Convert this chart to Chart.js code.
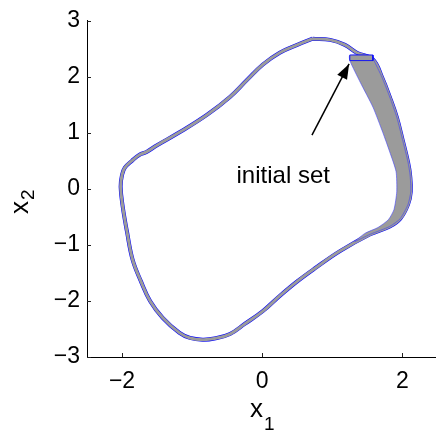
<!DOCTYPE html>
<html>
<head>
<meta charset="utf-8">
<script src="https://cdn.jsdelivr.net/npm/chart.js@4/dist/chart.umd.min.js"></script>
<style>
  html, body { margin: 0; padding: 0; background: #fff; }
  #wrap { width: 436px; height: 431px; }
</style>
</head>
<body>
<div id="wrap"><canvas id="c" width="436" height="431"></canvas></div>
<script>
// Axis ranges and tick values
const xTicks = [-2, 0, 2];
const yTicks = [-3, -2, -1, 0, 1, 2, 3];
const xRange = [-2.5, 2.48];
const yRange = [-3, 3];

// Limit cycle traced clockwise (x1, x2)
const limitCycle = [
  [0.72,2.68],[0.97,2.66],[1.18,2.57],[1.35,2.43],[1.58,2.31],
  [1.71,1.99],[1.82,1.64],[1.92,1.28],[2.01,0.84],[2.08,0.48],
  [2.11,0.25],[2.12,-0.05],[2.08,-0.28],[1.97,-0.53],[1.82,-0.67],
  [1.54,-0.81],[1.11,-1.11],[0.75,-1.42],[0.50,-1.65],[0.25,-1.91],
  [0.01,-2.18],[-0.25,-2.41],[-0.46,-2.59],[-0.68,-2.67],[-0.85,-2.69],
  [-1.03,-2.66],[-1.18,-2.57],[-1.42,-2.30],[-1.60,-2.00],[-1.73,-1.65],
  [-1.85,-1.26],[-1.93,-0.76],[-1.99,-0.32],[-2.02,0.04],[-2.00,0.25],
  [-1.96,0.38],[-1.86,0.50],[-1.75,0.61],[-1.65,0.66],[-1.50,0.78],
  [-1.18,1.01],[-0.79,1.32],[-0.46,1.64],[-0.22,1.94],[0.01,2.22],
  [0.25,2.43],[0.50,2.57],[0.72,2.68]
];

// Reachable set spreading from the initial set: outer edge, then inner edge back up
const bandOuter = [
  [1.58,2.33],[1.71,1.99],[1.82,1.64],[1.92,1.28],[2.01,0.84],[2.08,0.48],
  [2.11,0.25],[2.12,-0.05],[2.08,-0.28],[1.97,-0.53],[1.82,-0.67],
  [1.54,-0.81],[1.32,-0.94]
];
const bandInner = [
  [1.47,-0.79],[1.65,-0.69],[1.80,-0.55],[1.88,-0.37],[1.92,-0.05],
  [1.91,0.31],[1.82,0.66],[1.72,1.01],[1.58,1.46],[1.40,1.90],
  [1.25,2.29],[1.25,2.38],[1.58,2.38],[1.58,2.33]
];

// Initial set box
const initialSet = [[1.25,2.29],[1.25,2.39],[1.58,2.39],[1.58,2.29],[1.25,2.29]];

// Annotation arrow (tail -> head) and its label
const arrowLine = [[0.71,0.96],[1.24,2.23]];
const labelText = 'initial set';
const labelPos = [0.30, 0.22];

const GRAY = '#9b9b9b';
const BLUE = '#0000ff';
const FONT = '"Liberation Sans", Arial, sans-serif';

const pts = a => a.map(p => ({ x: p[0], y: p[1] }));
const minus = v => (v < 0 ? '\u2212' + Math.abs(v) : String(v));

const annotate = {
  id: 'annotate',
  afterDatasetsDraw(chart) {
    const { ctx, scales: { x, y }, chartArea } = chart;
    ctx.save();

    // inward tick marks on the left and bottom axes
    ctx.strokeStyle = '#222';
    ctx.lineWidth = 1;
    ctx.beginPath();
    xTicks.forEach(v => {
      const px = Math.round(x.getPixelForValue(v)) + 0.5;
      ctx.moveTo(px, chartArea.bottom);
      ctx.lineTo(px, chartArea.bottom - 4);
    });
    yTicks.forEach(v => {
      const py = Math.round(y.getPixelForValue(v)) + 0.5;
      ctx.moveTo(chartArea.left, py);
      ctx.lineTo(chartArea.left + 4, py);
    });
    ctx.stroke();

    // arrowhead
    const meta = chart.getDatasetMeta(0);
    const a = meta.data[0], b = meta.data[1];
    const ang = Math.atan2(b.y - a.y, b.x - a.x);
    const L = 15, W = 5.5;
    ctx.fillStyle = '#000';
    ctx.beginPath();
    ctx.moveTo(b.x, b.y);
    ctx.lineTo(b.x - L * Math.cos(ang) + W * Math.sin(ang), b.y - L * Math.sin(ang) - W * Math.cos(ang));
    ctx.lineTo(b.x - L * Math.cos(ang) - W * Math.sin(ang), b.y - L * Math.sin(ang) + W * Math.cos(ang));
    ctx.closePath();
    ctx.fill();

    // label
    ctx.fillStyle = '#000';
    ctx.font = '24px ' + FONT;
    ctx.textAlign = 'center';
    ctx.textBaseline = 'middle';
    ctx.fillText(labelText, x.getPixelForValue(labelPos[0]), y.getPixelForValue(labelPos[1]));

    // axis titles with subscripts
    ctx.textAlign = 'left';
    ctx.textBaseline = 'alphabetic';
    ctx.font = '26px ' + FONT;
    ctx.fillText('x', 250, 417);
    ctx.font = '19px ' + FONT;
    ctx.fillText('1', 264, 430);

    ctx.translate(28, 214);
    ctx.rotate(-Math.PI / 2);
    ctx.font = '26px ' + FONT;
    ctx.fillText('x', 0, 0);
    ctx.font = '19px ' + FONT;
    ctx.fillText('2', 14, 6);
    ctx.restore();
  }
};

new Chart(document.getElementById('c'), {
  type: 'scatter',
  data: {
    datasets: [
      { data: pts(arrowLine), showLine: true, borderColor: '#000', borderWidth: 1.5, pointRadius: 0 },
      { data: pts(initialSet), showLine: true, fill: 'shape', backgroundColor: GRAY,
        borderColor: 'rgba(0,0,255,0.85)', borderWidth: 1, pointRadius: 0, tension: 0 },
      { data: pts(bandOuter.concat(bandInner)), showLine: true, fill: 'shape', backgroundColor: GRAY,
        borderColor: 'rgba(60,60,255,0.7)', borderWidth: 0.8, pointRadius: 0, tension: 0.2 },
      { data: pts(limitCycle), showLine: true, borderColor: GRAY, borderWidth: 3, pointRadius: 0, tension: 0.4 },
      { data: pts(limitCycle), showLine: true, borderColor: BLUE, borderWidth: 4, pointRadius: 0, tension: 0.4 }
    ]
  },
  options: {
    responsive: false,
    animation: false,
    layout: { padding: { top: 18, right: 0, left: 0, bottom: 0 } },
    plugins: { legend: { display: false }, tooltip: { enabled: false } },
    scales: {
      x: {
        type: 'linear', min: xRange[0], max: xRange[1],
        afterBuildTicks: s => { s.ticks = xTicks.map(v => ({ value: v })); },
        afterFit: s => { s.height = 74; },
        grid: { display: false, drawTicks: false },
        border: { display: true, color: '#000', width: 1 },
        ticks: { color: '#000', font: { family: FONT, size: 23 }, padding: 11, callback: v => minus(v) }
      },
      y: {
        type: 'linear', min: yRange[0], max: yRange[1],
        afterBuildTicks: s => { s.ticks = yTicks.map(v => ({ value: v })); },
        afterFit: s => { s.width = 87; },
        grid: { display: false, drawTicks: false },
        border: { display: true, color: '#000', width: 1 },
        ticks: { color: '#000', font: { family: FONT, size: 23 }, padding: 7, callback: v => minus(v) }
      }
    }
  },
  plugins: [annotate]
});
</script>
</body>
</html>
